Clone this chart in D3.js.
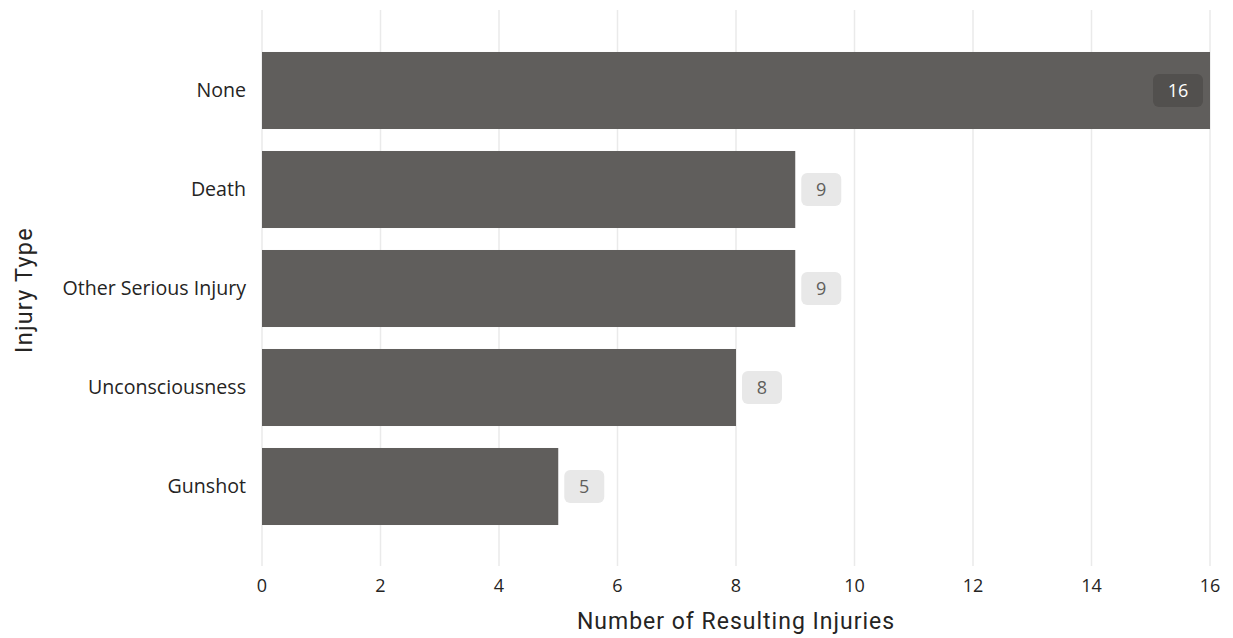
<!DOCTYPE html>
<html><head><meta charset="utf-8">
<script src="https://cdn.jsdelivr.net/npm/d3@7"></script>
<style>body{margin:0;background:#fff}</style>
</head><body><svg id="c" width="1233" height="638"></svg>
<script>
const categories = ["None","Death","Other Serious Injury","Unconsciousness","Gunshot"];
const values = [16,9,9,8,5];
const xTicks = [0,2,4,6,8,10,12,14,16];
const xTitle = "Number of Resulting Injuries";
const yTitle = "Injury Type";

const svg = d3.select("#c");
const x = d3.scaleLinear().domain([0,16]).range([262,1210]);
const y = d3.scaleBand().domain(categories).range([41,536]).paddingInner(0.222).paddingOuter(0.111);
const font = "'Open Sans','Noto Sans',sans-serif";
const tfont = "'Roboto','Noto Sans',sans-serif";

// gridlines
svg.append("g").selectAll("line").data(xTicks).join("line")
  .attr("x1",d=>x(d)).attr("x2",d=>x(d)).attr("y1",10).attr("y2",566)
  .attr("stroke","#EAEAEA").attr("stroke-width",1.5);

// bars
svg.append("g").selectAll("rect").data(categories).join("rect")
  .attr("x",x(0)).attr("y",d=>y(d)).attr("height",y.bandwidth())
  .attr("width",(d,i)=>x(values[i])-x(0)).attr("fill","#605E5C");

// x tick labels
svg.append("g").selectAll("text").data(xTicks).join("text")
  .attr("x",d=>x(d)).attr("y",592).attr("text-anchor","middle")
  .attr("font-family",font).attr("font-size",18).attr("fill","#252423").text(d=>d);

// y category labels
svg.append("g").selectAll("text").data(categories).join("text")
  .attr("x",246).attr("y",d=>y(d)+y.bandwidth()/2).attr("dy","0.35em").attr("text-anchor","end")
  .attr("font-family",font).attr("font-size",19.6).attr("fill","#252423").text(d=>d);

// data labels
const lab = svg.append("g");
categories.forEach((c,i)=>{
  const v = values[i];
  const inside = v === d3.max(values);
  const w = String(v).length>1 ? 50 : 40, h = 33;
  const bx = inside ? x(v)-7-w : x(v)+6;
  const cy = y(c)+y.bandwidth()/2;
  lab.append("rect").attr("x",bx).attr("y",cy-h/2).attr("width",w).attr("height",h).attr("rx",6)
    .attr("fill", inside ? "#52504e" : "#E8E8E8");
  lab.append("text").attr("x",bx+w/2).attr("y",cy).attr("dy","0.36em").attr("text-anchor","middle")
    .attr("font-family",font).attr("font-size",18)
    .attr("fill", inside ? "#ffffff" : "#605E5C").text(v);
});

// axis titles
svg.append("text").attr("x",736).attr("y",629).attr("text-anchor","middle")
  .attr("font-family",tfont).attr("font-size",23).attr("letter-spacing",1).attr("fill","#252423").text(xTitle);
svg.append("text").attr("transform","translate(32,290) rotate(-90)").attr("text-anchor","middle")
  .attr("font-family",tfont).attr("font-size",23.5).attr("letter-spacing",1.2).attr("fill","#252423").text(yTitle);
</script></body></html>
